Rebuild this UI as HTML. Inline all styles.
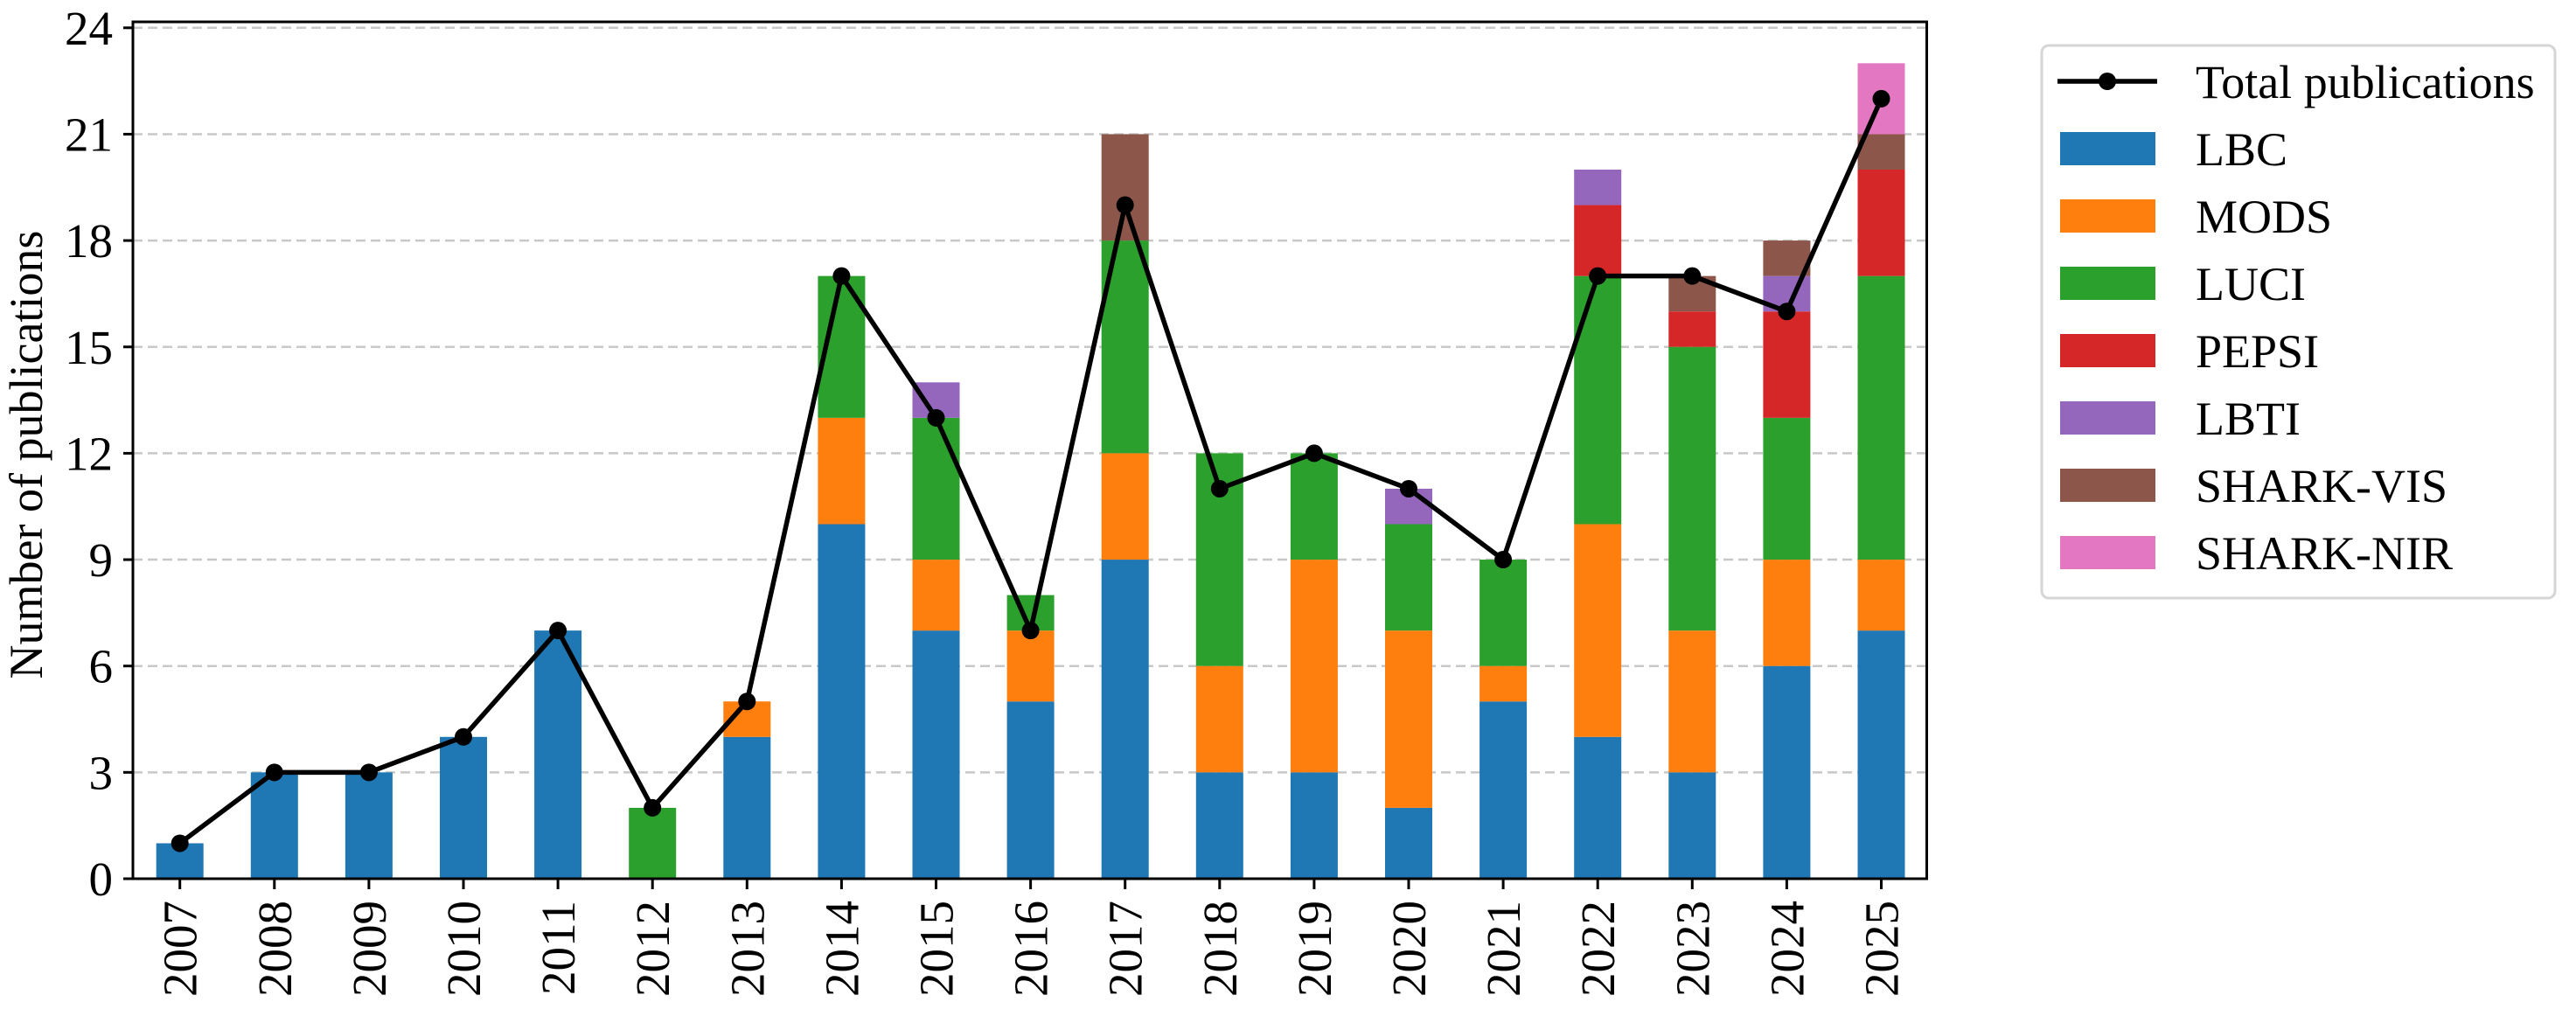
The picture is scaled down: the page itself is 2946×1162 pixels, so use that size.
<!DOCTYPE html>
<html><head><meta charset="utf-8"><style>
html,body{margin:0;padding:0;background:#fff;}
svg, svg text{font-family:"Liberation Serif","Times New Roman",serif;}
svg{display:block;}
</style></head><body>
<svg id="chart" width="2946" height="1162" viewBox="0 0 2946 1162" xmlns="http://www.w3.org/2000/svg">
<g id="grid"></g>
<g id="bars"></g>
<g id="line"></g>
<rect x="152" y="25" width="2051.5" height="980" fill="none" stroke="#000" stroke-width="3"/>
<g id="yticks"></g>
<g id="xticks"></g>
<text transform="translate(48,520) rotate(-90)" text-anchor="middle" font-size="54" font-family="Liberation Serif, serif">Number of publications</text>
<g id="legend">
<rect x="2335" y="52" width="587" height="632" rx="8" fill="#fff" stroke="#d6d6d6" stroke-width="3"/>
</g>
</svg>
<script>
const years = ["2007","2008","2009","2010","2011","2012","2013","2014","2015","2016","2017","2018","2019","2020","2021","2022","2023","2024","2025"];
const seriesNames = ["LBC","MODS","LUCI","PEPSI","LBTI","SHARK-VIS","SHARK-NIR"];
const colors = ["#1f77b4","#ff7f0e","#2ca02c","#d62728","#9467bd","#8c564b","#e377c2"];
const lbc   = [1,3,3,4,7,0,4,10,7,5,9,3,3,2,5,4,3,6,7];
const mods  = [0,0,0,0,0,0,1,3,2,2,3,3,6,5,1,6,4,3,2];
const luci  = [0,0,0,0,0,2,0,4,4,1,6,6,3,3,3,7,8,4,8];
const pepsi = [0,0,0,0,0,0,0,0,0,0,0,0,0,0,0,2,1,3,3];
const lbti  = [0,0,0,0,0,0,0,0,1,0,0,0,0,1,0,1,0,1,0];
const sharkVis = [0,0,0,0,0,0,0,0,0,0,3,0,0,0,0,0,1,1,1];
const sharkNir = [0,0,0,0,0,0,0,0,0,0,0,0,0,0,0,0,0,0,2];
const totals = [1,3,3,4,7,2,5,17,13,7,19,11,12,11,9,17,17,16,22];
const yTicks = [0,3,6,9,12,15,18,21,24];

const NS="http://www.w3.org/2000/svg";
const FF="Liberation Serif, serif";
const X0=205.7, DX=108.1, Y0=1005, DY=40.55;
const xs=i=>X0+i*DX, ys=v=>Y0-v*DY;
function mk(tag,attrs,parent){const e=document.createElementNS(NS,tag);for(const k in attrs)e.setAttribute(k,attrs[k]);parent.appendChild(e);return e;}
const grid=document.getElementById('grid'),bars=document.getElementById('bars'),line=document.getElementById('line'),yt=document.getElementById('yticks'),xt=document.getElementById('xticks'),leg=document.getElementById('legend');
yTicks.forEach(t=>{
  const g=mk('line',{x1:152,x2:2203,y1:ys(t),y2:ys(t),stroke:'#c8c8c8','stroke-width':2.5,'stroke-dasharray':'11,6'},grid);
  
  
  const tk=mk('line',{x1:141,x2:152,y1:ys(t),y2:ys(t),stroke:'#000','stroke-width':3},yt);
  
  
  const tx=mk('text',{x:129,y:ys(t)+19,'text-anchor':'end','font-size':55,'font-family':FF},yt);
  tx.textContent=t;
  
  
});
const all=[lbc,mods,luci,pepsi,lbti,sharkVis,sharkNir];
years.forEach((y,i)=>{
  let base=0;
  all.forEach((s,k)=>{
    if(s[i]>0){
      const r=mk('rect',{x:xs(i)-27,width:54,y:ys(base+s[i]),height:s[i]*DY,fill:colors[k]},bars);
      
      
    }
    base+=s[i];
  });
  const tk=mk('line',{x1:xs(i),x2:xs(i),y1:1005,y2:1017,stroke:'#000','stroke-width':3},xt);
  
  
  const tx=mk('text',{transform:`translate(${xs(i)+19},1030) rotate(-90)`,'text-anchor':'end','font-size':55,'font-family':FF},xt);
  tx.textContent=y;
  
  
});
const pl=mk('polyline',{points:totals.map((v,i)=>xs(i)+','+ys(v)).join(' '),fill:'none',stroke:'#000','stroke-width':5.5,'stroke-linejoin':'round'},line);


totals.forEach((v,i)=>{
  const c=mk('circle',{cx:xs(i),cy:ys(v),r:10,fill:'#000'},line);
  
  
});
const ll=mk('line',{x1:2353,x2:2467,y1:93,y2:93,stroke:'#000','stroke-width':5.5},leg);


const lc=mk('circle',{cx:2410,cy:93,r:10,fill:'#000'},leg);


const lt=mk('text',{x:2511,y:112,'font-size':54,'font-family':FF},leg);
lt.textContent='Total publications';


seriesNames.forEach((n,k)=>{
  const cy=170+k*77;
  const r=mk('rect',{x:2356,y:cy-19,width:109,height:38,fill:colors[k]},leg);
  
  
  const t=mk('text',{x:2511,y:cy+19,'font-size':54,'font-family':FF},leg);
  t.textContent=n;
  
  
});
</script>
</body></html>
